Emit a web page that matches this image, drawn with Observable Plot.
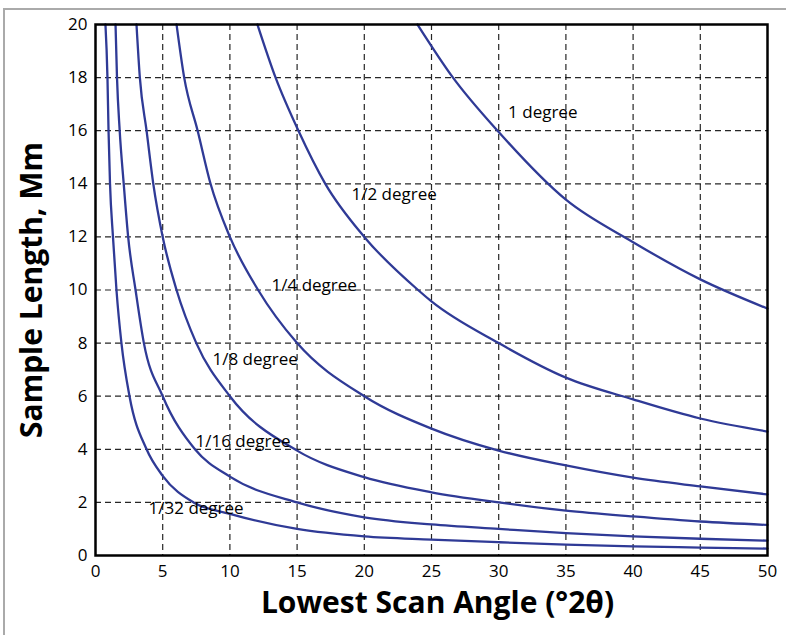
<!DOCTYPE html>
<html><head><meta charset="utf-8">
<script src="https://cdn.jsdelivr.net/npm/d3@7"></script>
<script src="https://cdn.jsdelivr.net/npm/@observablehq/plot@0.6"></script>
<style>
body{margin:0;background:#fff;}
#wrap{position:relative;width:786px;height:635px;overflow:hidden;}
#border{position:absolute;left:3px;top:8px;width:800px;height:700px;border-left:2px solid #aaa;border-top:2px solid #aaa;pointer-events:none;}
svg{display:block;}
</style></head><body><div id="wrap"></div>
<script>
const xTicks = [0,5,10,15,20,25,30,35,40,45,50];
const yTicks = [0,2,4,6,8,10,12,14,16,18,20];

const seriesNames = ["1 degree","1/2 degree","1/4 degree","1/8 degree","1/16 degree","1/32 degree"];

const angle1 = [23.96,26.6,30,35,40,45,50];
const len1   = [20,18,15.95,13.4,11.8,10.4,9.3];

const angle2 = [12.05,13.4,15.1,17.1,20,24,25,30,35,40,45,50];
const len2   = [20,18,16,14,12,10,9.57,8.0,6.7,5.88,5.16,4.67];

const angle4 = [6.03,6.6,7.6,8.56,10,12.1,15,20,25,30,35,40,45,50];
const len4   = [20,18,16,14,12,10,8,6,4.78,3.95,3.39,2.93,2.6,2.3];

const angle8 = [3.05,3.3,3.8,4.3,5,6.03,7.5,10,15,20,25,30,35,40,45,50];
const len8   = [20,18,16,14,12,10,8,6,3.95,2.95,2.38,2.0,1.69,1.47,1.28,1.15];

const angle16 = [1.49,1.6,1.8,2.1,2.43,2.98,3.6,5.0,7.4,10,15,20,25,30,35,40,45,50];
const len16   = [20,18,16,14,12,10,8,6,4,2.97,2.0,1.44,1.17,1.0,0.84,0.72,0.63,0.56];

const angle32 = [0.74,0.89,0.97,1.08,1.3,1.56,1.93,2.53,3.8,5,7.3,10,15,20,25,30,35,40,45,50];
const len32   = [20,18,16,14,12,10,8,6,4,3.0,2,1.57,1.0,0.72,0.6,0.5,0.41,0.34,0.30,0.26];

const labelX = [30.7,19.05,13.1,8.7,7.44,3.95];
const labelY = [16.7,13.6,10.17,7.38,4.3,1.77];

const xTitle = "Lowest Scan Angle (°2θ)";
const yTitle = "Sample Length, Mm";

const allAngles = [angle1,angle2,angle4,angle8,angle16,angle32];
const allLens = [len1,len2,len4,len8,len16,len32];
const data = [];
allAngles.forEach((a,i)=>a.forEach((v,j)=>data.push({series:seriesNames[i],angle:v,length:allLens[i][j]})));
const labels = seriesNames.map((s,i)=>({text:s,x:labelX[i],y:labelY[i]}));

const chart = Plot.plot({
  width:786, height:635,
  marginLeft:95, marginRight:19, marginTop:24, marginBottom:80,
  x:{domain:[0,50]},
  y:{domain:[0,20]},
  style:{fontFamily:"'Open Sans', sans-serif", fontSize:"17px", background:"transparent", color:"black"},
  marks:[
    Plot.gridX(xTicks.slice(1,-1),{stroke:"black",strokeOpacity:0.85,strokeWidth:1.2,strokeDasharray:"6,4"}),
    Plot.gridY(yTicks.slice(1,-1),{stroke:"black",strokeOpacity:0.85,strokeWidth:1.2,strokeDasharray:"6,4"}),
    Plot.line(data,{x:"angle",y:"length",z:"series",stroke:"#2f3a96",strokeWidth:2.3,curve:"monotone-x"}),
    Plot.text(labels,{x:"x",y:"y",text:"text",textAnchor:"start",fontSize:17,fill:"black"}),
    Plot.frame({stroke:"black",strokeWidth:2.5}),
    Plot.axisX(xTicks,{tickSize:0,tickPadding:9,fontSize:17,label:null}),
    Plot.axisY(yTicks,{tickSize:0,tickPadding:8,fontSize:17,label:null}),
    Plot.text([xTitle],{frameAnchor:"bottom",textAnchor:"middle",lineAnchor:"middle",dy:48,dx:6,fontSize:30,fontWeight:"bold",fill:"black"}),
    Plot.text([yTitle],{frameAnchor:"left",textAnchor:"middle",lineAnchor:"middle",rotate:-90,dx:-63,fontSize:30,fontWeight:"bold",fill:"black"})
  ]
});
const wrap = document.getElementById("wrap");
wrap.appendChild(chart);
const b = document.createElement("div"); b.id="border"; wrap.appendChild(b);
</script>
</body></html>
